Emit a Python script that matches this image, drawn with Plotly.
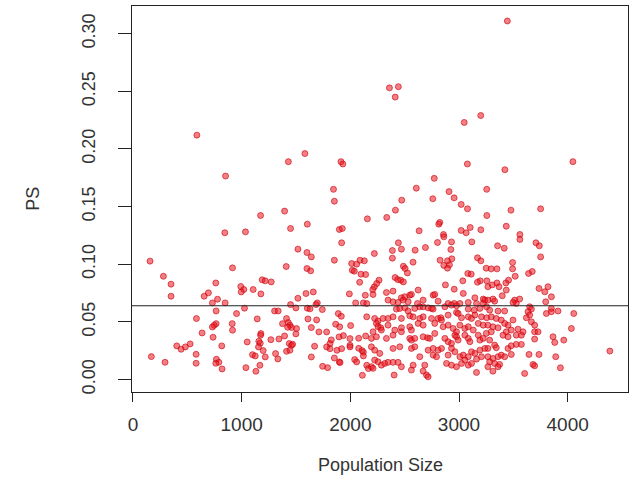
import plotly.graph_objects as go

# Population size of each simulated population and its PS value
pop_size = [
    # upper tail
    3445, 2360, 2442, 2413, 3200, 3048, 588, 1582, 1430, 1914, 1931, 3077, 4048, 3422, 852, 2772,
    1845, 2607, 2908, 3255,
    # populations below ~2180
    1853, 1174, 1395, 845, 1035, 1450, 1604, 1899, 1926, 1920, 157, 280, 350, 350, 655, 694,
    762, 731, 778, 848, 916, 992, 1020, 996, 1106, 1177, 1189, 1217, 1272, 1410, 1518, 1601,
    1641, 1601, 1635, 1853, 2012, 2058, 2089, 2129, 2018, 2037, 2098, 2141, 2086, 1991, 2138, 2157,
    1518, 1592, 1659, 1450, 1499, 1604, 1629, 1696, 1684, 1742, 1026, 953, 765, 584, 765, 747,
    731, 913, 916, 636, 737, 817, 403, 443, 482, 526, 169, 295, 581, 581, 768, 790,
    762, 820, 1051, 1039, 1143, 1177, 1174, 1158, 1171, 1155, 1100, 1125, 1198, 1217, 1168, 1131,
    1269, 1343, 1395, 1303, 1336, 1376, 1413, 1429, 1444, 1459, 1505, 1423, 1499, 1438, 1459, 1469,
    1413, 1444, 1312, 1333, 1610, 1690, 1641, 1711, 1782, 1671, 1641, 1745, 1791, 1825, 1813, 1782,
    1813, 1865, 1902, 1889, 1917, 1896, 1936, 2003, 1877, 1920, 1853, 1899, 1905, 1997, 2077, 1997,
    1997, 2077, 2108, 2120, 2040, 2058, 2120, 2111, 2151, 2166, 2141, 2120, 2151, 2049, 2151,
    # populations 2180-3270, PS below 0.082
    2209, 2332, 2393, 2470, 2501, 2547, 2562, 2624, 2762, 2777, 2956, 3039, 3146, 3223, 3238, 2347,
    2393, 2439, 2486, 2532, 2618, 2670, 2808, 2900, 2956, 3008, 3085, 3161, 3223, 2424, 2455, 2501,
    2532, 2593, 2639, 2670, 2716, 2747, 2762, 2870, 2931, 2977, 3085, 3140, 3192, 3254, 2224, 2255,
    2301, 2347, 2393, 2470, 2547, 2578, 2639, 2670, 2747, 2808, 2833, 2839, 2900, 2977, 2992, 3023,
    3085, 3115, 3146, 3207, 3254, 2240, 2255, 2280, 2286, 2209, 2347, 2409, 2470, 2547, 2562, 2624,
    2670, 2777, 2854, 2900, 2946, 2977, 3008, 3054, 3085, 3131, 3177, 3223, 2194, 2240, 2332, 2393,
    2470, 2547, 2562, 2593, 2670, 2710, 2731, 2777, 2870, 2900, 2931, 2962, 2977, 2992, 3054, 3085,
    3100, 3177, 3192, 3223, 2194, 2224, 2271, 2393, 2455, 2562, 2593, 2716, 2762, 2808, 2839, 2931,
    2962, 3008, 3039, 3085, 3115, 3146, 3192, 3238, 2639, 2762, 2793, 2900, 2224, 2255, 2286, 2317,
    2347, 2393, 2439, 2470, 2194, 2209, 2578, 2685, 2885, 2931, 2977, 3023, 3054, 3085, 3115, 3161,
    3207, 2562, 2670, 2701, 2716, 2403, 3161, 2221, 2206,
    # populations above 3250, PS below 0.082
    3266, 3368, 3435, 3398, 3312, 3266, 3328, 3512, 3558, 3527, 3497, 3736, 3789, 3819, 3850, 3798,
    3650, 3666, 3635, 3650, 3620, 3804, 3850, 3850, 3911, 4056, 3282, 3359, 3420, 3297, 3343, 3389,
    3497, 3451, 3420, 3666, 3696, 3266, 3312, 3359, 3297, 3251, 3435, 3481, 3543, 3589, 3405, 3451,
    3527, 3574, 3696, 3727, 3696, 4034, 3865, 3881, 3964, 3282, 3328, 3266, 3343, 3451, 3481, 3527,
    3574, 3266, 3312, 3359, 3389, 3420, 3481, 3282, 3328, 3374, 3359, 3266, 3312, 3644, 3736, 3890,
    3681, 3696, 3933, 3604, 4388,
    # populations above 2180, PS above 0.082
    2473, 2759, 2955, 3020, 3078, 2415, 2335, 2823, 2814, 3256, 3478, 3751, 2633, 2857, 2860, 3020,
    3066, 3103, 3201, 3435, 3560, 3560, 3708, 3739, 3751, 2442, 2470, 2387, 2221, 2387, 2596, 2691,
    2802, 2931, 2925, 3118, 3355, 3416, 3170, 3201, 3493, 3493, 3250, 3296, 3349, 2826, 2894, 2912,
    2894, 2934, 2860, 2488, 2504, 2525, 2577, 3674, 3640, 3517, 3456, 3431, 3349, 3306, 3256, 3195,
    3170, 3035, 3081, 3112, 2875, 2412, 2436, 2464, 2488, 2264, 2243,
]

ps = [
    # upper tail
    0.311, 0.253, 0.254, 0.245, 0.229, 0.223, 0.212, 0.196, 0.189, 0.189, 0.187, 0.187, 0.189, 0.182, 0.1765, 0.1745,
    0.165, 0.166, 0.163, 0.165,
    # populations below ~2180
    0.1547, 0.1423, 0.1461, 0.1273, 0.1281, 0.1310, 0.1348, 0.1302, 0.1310, 0.1186, 0.1027, 0.0896, 0.0827, 0.0723, 0.0723, 0.0752,
    0.0838, 0.0665, 0.0697, 0.0665, 0.0969, 0.0807, 0.0781, 0.0760, 0.0781, 0.0743, 0.0865, 0.0856, 0.0847, 0.0980, 0.1131, 0.1102,
    0.1064, 0.0963, 0.0943, 0.1035, 0.1006, 0.1001, 0.1035, 0.1030, 0.0948, 0.0940, 0.0914, 0.0911, 0.0844, 0.0743, 0.0731, 0.1394,
    0.0705, 0.0746, 0.0760, 0.0650, 0.0621, 0.0619, 0.0613, 0.0665, 0.0650, 0.0607, 0.0619, 0.0572, 0.0595, 0.0529, 0.0485, 0.0471,
    0.0456, 0.0485, 0.0428, 0.0404, 0.0367, 0.0292, 0.0292, 0.0263, 0.0283, 0.0309, 0.0199, 0.0150, 0.0219, 0.0141, 0.0176, 0.0150,
    0.0141, 0.0092, 0.0326, 0.0103, 0.0526, 0.0399, 0.0384, 0.0332, 0.0315, 0.0283, 0.0216, 0.0205, 0.0251, 0.0196, 0.0124, 0.0072,
    0.0346, 0.0352, 0.0378, 0.0595, 0.0595, 0.0485, 0.0529, 0.0494, 0.0471, 0.0451, 0.0442, 0.0454, 0.0396, 0.0312, 0.0297, 0.0306,
    0.0245, 0.0254, 0.0225, 0.0179, 0.0526, 0.0517, 0.0451, 0.0413, 0.0413, 0.0289, 0.0196, 0.0115, 0.0103, 0.0344, 0.0312, 0.0283,
    0.0268, 0.0480, 0.0457, 0.0572, 0.0549, 0.0370, 0.0381, 0.0468, 0.0254, 0.0268, 0.0187, 0.0153, 0.0147, 0.0355, 0.0358, 0.0297,
    0.0283, 0.0271, 0.0251, 0.0237, 0.0173, 0.0153, 0.0205, 0.0037, 0.0124, 0.0095, 0.0378, 0.0665, 0.0659, 0.0665, 0.0544,
    # populations 2180-3270, PS below 0.082
    0.0738, 0.0755, 0.0767, 0.0709, 0.0718, 0.0732, 0.0738, 0.0776, 0.0732, 0.0738, 0.0784, 0.0747, 0.0709, 0.0698, 0.0689, 0.0689,
    0.0674, 0.0669, 0.0689, 0.0674, 0.0660, 0.0689, 0.0680, 0.0660, 0.0660, 0.0660, 0.0669, 0.0660, 0.0660, 0.0611, 0.0617, 0.0622,
    0.0594, 0.0617, 0.0631, 0.0631, 0.0622, 0.0617, 0.0611, 0.0631, 0.0646, 0.0640, 0.0611, 0.0602, 0.0617, 0.0631, 0.0530, 0.0507,
    0.0530, 0.0530, 0.0544, 0.0530, 0.0553, 0.0544, 0.0530, 0.0544, 0.0530, 0.0530, 0.0536, 0.0516, 0.0559, 0.0582, 0.0573, 0.0536,
    0.0544, 0.0530, 0.0559, 0.0544, 0.0536, 0.0487, 0.0458, 0.0449, 0.0429, 0.0414, 0.0472, 0.0429, 0.0449, 0.0458, 0.0429, 0.0487,
    0.0472, 0.0487, 0.0458, 0.0472, 0.0443, 0.0414, 0.0472, 0.0443, 0.0458, 0.0429, 0.0487, 0.0472, 0.0357, 0.0371, 0.0357, 0.0385,
    0.0414, 0.0357, 0.0342, 0.0357, 0.0371, 0.0362, 0.0357, 0.0400, 0.0357, 0.0328, 0.0313, 0.0385, 0.0371, 0.0342, 0.0385, 0.0357,
    0.0328, 0.0385, 0.0342, 0.0357, 0.0284, 0.0255, 0.0227, 0.0270, 0.0284, 0.0270, 0.0284, 0.0255, 0.0270, 0.0255, 0.0270, 0.0270,
    0.0241, 0.0198, 0.0212, 0.0198, 0.0241, 0.0227, 0.0255, 0.0270, 0.0198, 0.0212, 0.0198, 0.0212, 0.0169, 0.0154, 0.0125, 0.0140,
    0.0149, 0.0149, 0.0149, 0.0111, 0.0111, 0.0097, 0.0125, 0.0125, 0.0140, 0.0125, 0.0111, 0.0140, 0.0169, 0.0125, 0.0140, 0.0177,
    0.0198, 0.0082, 0.0073, 0.0039, 0.0024, 0.0039, 0.0062, 0.0804, 0.0781,
    # populations above 3250, PS below 0.082
    0.0805, 0.0805, 0.0776, 0.0727, 0.0698, 0.0689, 0.0680, 0.0689, 0.0698, 0.0660, 0.0669, 0.0790, 0.0761, 0.0805, 0.0718, 0.0674,
    0.0631, 0.0611, 0.0588, 0.0559, 0.0536, 0.0573, 0.0588, 0.0617, 0.0594, 0.0573, 0.0602, 0.0594, 0.0594, 0.0544, 0.0530, 0.0516,
    0.0516, 0.0472, 0.0487, 0.0501, 0.0472, 0.0472, 0.0458, 0.0449, 0.0414, 0.0400, 0.0414, 0.0429, 0.0437, 0.0414, 0.0385, 0.0371,
    0.0385, 0.0385, 0.0414, 0.0414, 0.0351, 0.0443, 0.0371, 0.0322, 0.0342, 0.0342, 0.0299, 0.0270, 0.0276, 0.0270, 0.0293, 0.0305,
    0.0305, 0.0198, 0.0183, 0.0198, 0.0212, 0.0198, 0.0218, 0.0154, 0.0140, 0.0131, 0.0111, 0.0111, 0.0073, 0.0218, 0.0218, 0.0198,
    0.0131, 0.0119, 0.0102, 0.0053, 0.0247,
    # populations above 2180, PS above 0.082
    0.1556, 0.1568, 0.1576, 0.1519, 0.1481, 0.1469, 0.1406, 0.1363, 0.1348, 0.1423, 0.1469, 0.1481, 0.1290, 0.1258, 0.1238, 0.1293,
    0.1273, 0.1319, 0.1299, 0.1330, 0.1258, 0.1215, 0.1186, 0.1160, 0.1064, 0.1186, 0.1131, 0.1119, 0.1093, 0.1053, 0.1122, 0.1145,
    0.1189, 0.1194, 0.1128, 0.1194, 0.1160, 0.1139, 0.1056, 0.1030, 0.1015, 0.0960, 0.0966, 0.0960, 0.0960, 0.1035, 0.1030, 0.0995,
    0.0966, 0.1047, 0.0990, 0.0983, 0.0963, 0.0925, 0.1018, 0.0937, 0.0920, 0.0896, 0.0862, 0.0838, 0.0838, 0.0821, 0.0856, 0.0856,
    0.0844, 0.0856, 0.0920, 0.0914, 0.0821, 0.0885, 0.0867, 0.0862, 0.0847, 0.0862, 0.0833,
]

# horizontal reference level for PS
ps_reference = 0.064

x_ticks = [0, 1000, 2000, 3000, 4000]
y_ticks = [0.00, 0.05, 0.10, 0.15, 0.20, 0.25, 0.30]
y_tick_text = ["0.00", "0.05", "0.10", "0.15", "0.20", "0.25", "0.30"]

FONT = "Liberation Sans, Arial, sans-serif"

fig = go.Figure()
fig.add_trace(go.Scatter(
    x=pop_size, y=ps, mode="markers",
    marker=dict(size=6, color="rgba(235,20,30,0.55)",
                line=dict(color="rgba(200,0,10,0.6)", width=1)),
    hoverinfo="x+y", showlegend=False,
))
fig.add_hline(y=ps_reference, line=dict(color="#222222", width=1))

axis_common = dict(
    showgrid=False, zeroline=False, showline=True, mirror=True,
    linecolor="#222222", linewidth=1, ticks="outside", tickcolor="#222222",
    tickwidth=1,
)

fig.update_layout(
    width=638, height=478,
    margin=dict(l=132, r=10, t=6, b=86),
    paper_bgcolor="white", plot_bgcolor="white",
    xaxis=dict(range=[-9, 4555], tickvals=x_ticks, ticklen=9,
               ticklabelstandoff=6,
               tickfont=dict(family=FONT, size=19, color="#333333"),
               **axis_common),
    yaxis=dict(range=[-0.0108, 0.324], tickvals=y_ticks, ticktext=y_tick_text,
               tickangle=-90, ticklen=13, ticklabelstandoff=16,
               tickfont=dict(family=FONT, size=18, color="#333333"),
               **axis_common),
    annotations=[
        dict(text="Population Size", xref="paper", yref="paper", x=0.5, y=-0.19,
             xanchor="center", yanchor="middle", showarrow=False,
             font=dict(family=FONT, size=18, color="#333333")),
        dict(text="PS", xref="paper", yref="paper", x=-0.2, y=0.5,
             xanchor="center", yanchor="middle", textangle=-90, showarrow=False,
             font=dict(family=FONT, size=18, color="#333333")),
    ],
)

fig.write_html("out.html")
